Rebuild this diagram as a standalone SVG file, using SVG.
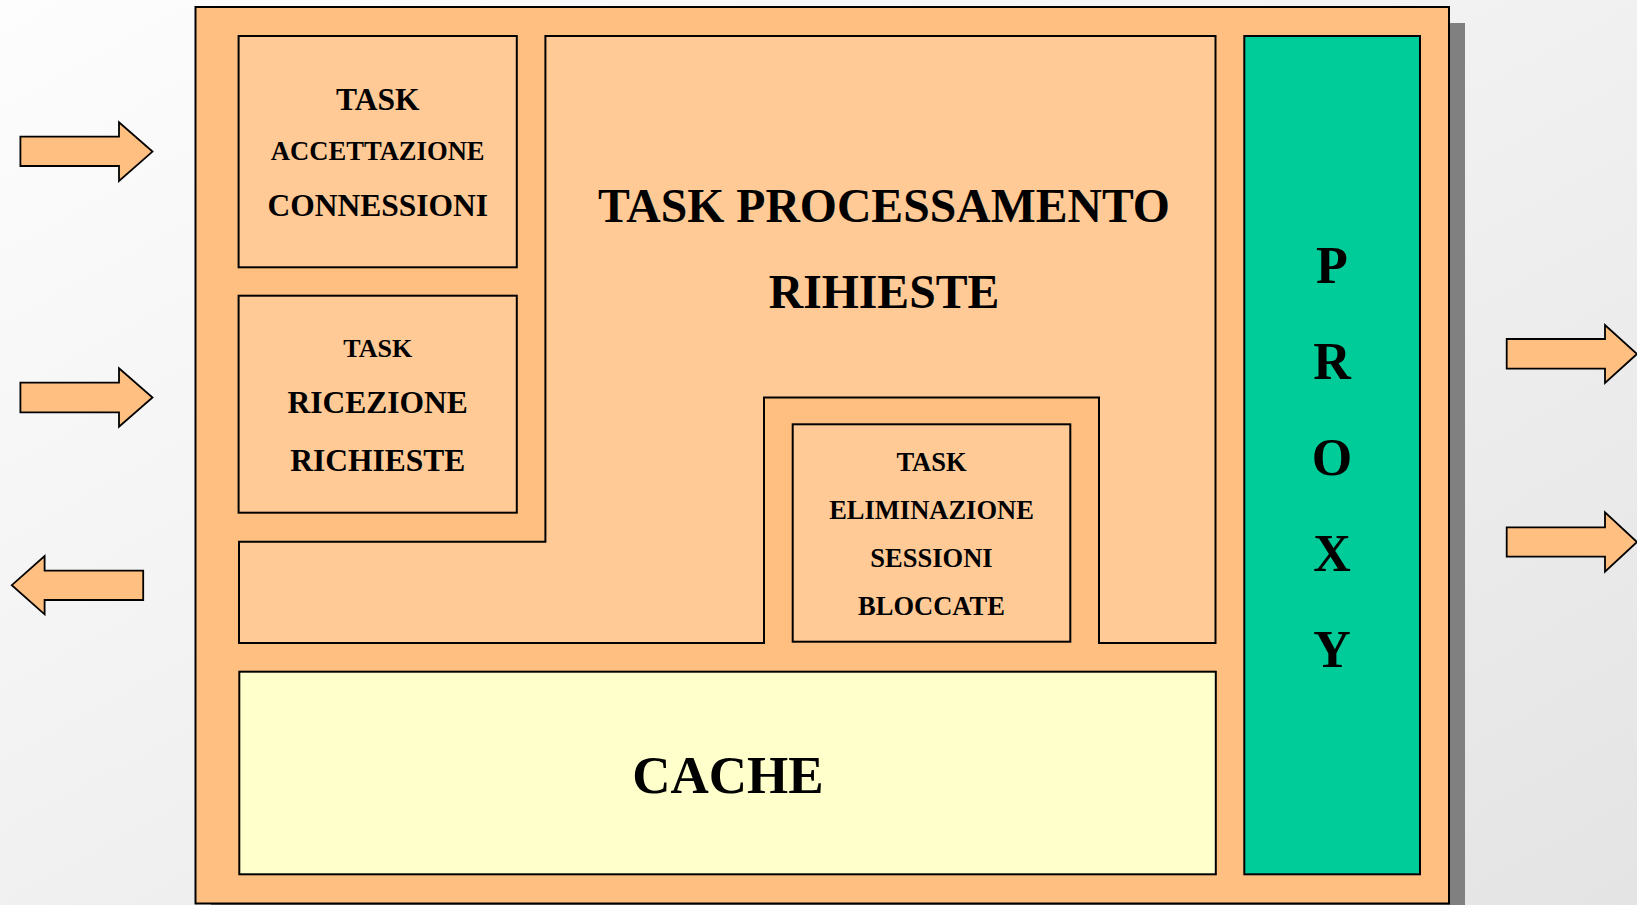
<svg xmlns="http://www.w3.org/2000/svg" width="1637" height="905" viewBox="0 0 1637 905">
<defs>
<linearGradient id="bg" x1="0" y1="0" x2="1" y2="1">
<stop offset="0" stop-color="#fdfdfd"/>
<stop offset="1" stop-color="#e4e4e4"/>
</linearGradient>
<linearGradient id="inner" x1="0" y1="0" x2="1" y2="0">
<stop offset="0" stop-color="#ffca96"/>
<stop offset="1" stop-color="#ffc994"/>
</linearGradient>
<style>
.box{stroke:#000;stroke-width:2}
.outer{fill:#ffbf80}
.task{fill:#ffca96}
.cache{fill:#ffffcc}
.proxy{fill:#00cc99}
.arrow{fill:#ffbf80;stroke:#000;stroke-width:1.8;stroke-linejoin:miter}
text{font-family:"Liberation Serif","Times New Roman",serif;font-weight:bold;fill:#000;text-anchor:middle}
</style>
</defs>
<rect x="0" y="0" width="1637" height="905" fill="url(#bg)"/>
<rect x="211" y="23" width="1254" height="900" fill="#808080"/>
<g id="server">
<rect class="box outer" x="195.5" y="7" width="1253.5" height="896.5"/>
</g>
<g id="task-processamento">
<path class="box task" d="M545.4,36 H1215.5 V643 H1099 V397.5 H764 V643 H239 V541.7 H545.4 Z"/>
<text x="884" y="221.7" font-size="47.7">TASK PROCESSAMENTO</text>
<text x="884" y="308.3" font-size="47.7">RIHIESTE</text>
</g>
<g id="task-accettazione">
<rect class="box task" x="238.6" y="36" width="278.2" height="231.3"/>
<text x="377.7" y="110" font-size="31.5">TASK</text>
<text x="377.7" y="160" font-size="26.6">ACCETTAZIONE</text>
<text x="377.7" y="216" font-size="31.5">CONNESSIONI</text>
</g>
<g id="task-ricezione">
<rect class="box task" x="238.6" y="295.7" width="278.2" height="217"/>
<text x="377.7" y="356.7" font-size="26">TASK</text>
<text x="377.7" y="413.3" font-size="31.5">RICEZIONE</text>
<text x="377.7" y="471" font-size="31.5">RICHIESTE</text>
</g>
<g id="task-eliminazione">
<rect class="box task" x="792.7" y="424.3" width="277.6" height="217.4"/>
<text x="931.5" y="471" font-size="26.5">TASK</text>
<text x="931.5" y="519" font-size="26.5">ELIMINAZIONE</text>
<text x="931.5" y="567.3" font-size="26.5">SESSIONI</text>
<text x="931.5" y="615" font-size="26.5">BLOCCATE</text>
</g>
<g id="cache">
<rect class="box cache" x="239.3" y="671.7" width="976.5" height="202.6"/>
<text x="728" y="792.7" font-size="53">CACHE</text>
</g>
<g id="proxy">
<rect class="box proxy" x="1244.3" y="36" width="175.7" height="838.3"/>
<text x="1332" y="282.5" font-size="52">P</text>
<text x="1332" y="378.5" font-size="52">R</text>
<text x="1332" y="474.5" font-size="52">O</text>
<text x="1332" y="570.5" font-size="52">X</text>
<text x="1332" y="666.5" font-size="52">Y</text>
</g>
<g id="connectors">
<path class="arrow" d="M20.4,136.7 H119 V122.3 L152.5,151.6 L119,181 V166 H20.4 Z"/>
<path class="arrow" d="M20.4,382.7 H119 V368.3 L152.5,397.5 L119,426.7 V412.3 H20.4 Z"/>
<path class="arrow" d="M143.2,570.7 H44.6 V556 L11.8,585.2 L44.6,614.3 V600 H143.2 Z"/>
<path class="arrow" d="M1506.7,339 H1605 V325 L1637,354 L1605,383 V368.7 H1506.7 Z"/>
<path class="arrow" d="M1506.7,527.3 H1605 V512.3 L1637,542 L1605,571.7 V556.7 H1506.7 Z"/>
</g>
</svg>
